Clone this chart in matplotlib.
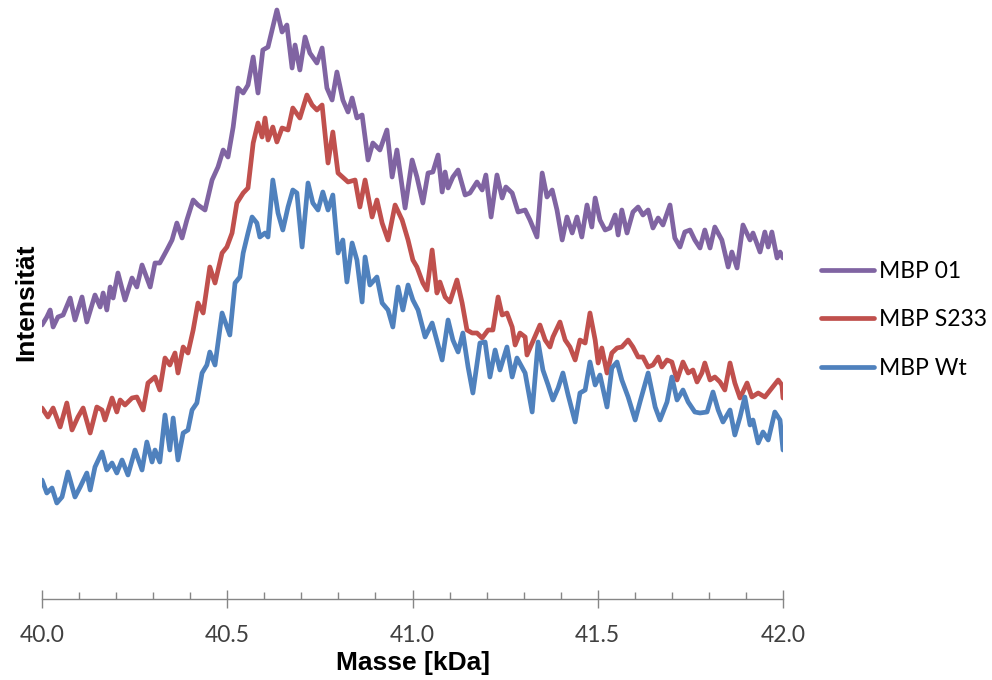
import matplotlib
matplotlib.use("Agg")
import matplotlib.pyplot as plt
from matplotlib.ticker import MultipleLocator

# MALDI spectra, mass in kDa, intensity in arbitrary units
mass_01 = [40.000, 40.013, 40.022, 40.030, 40.043, 40.057, 40.076, 40.089, 40.108, 40.121,
           40.143, 40.157, 40.165, 40.175, 40.184, 40.192, 40.205, 40.224, 40.243, 40.256,
           40.270, 40.292, 40.305, 40.318, 40.337, 40.351, 40.364, 40.378, 40.391, 40.408,
           40.421, 40.440, 40.459, 40.475, 40.489, 40.502, 40.516, 40.529, 40.543, 40.556,
           40.570, 40.583, 40.596, 40.610, 40.634, 40.648, 40.661, 40.675, 40.683, 40.696,
           40.710, 40.723, 40.742, 40.756, 40.769, 40.783, 40.796, 40.812, 40.826, 40.837,
           40.850, 40.864, 40.880, 40.893, 40.912, 40.931, 40.945, 40.958, 40.980, 40.999,
           41.012, 41.028, 41.042, 41.055, 41.069, 41.080, 41.088, 41.096, 41.109, 41.123,
           41.142, 41.155, 41.174, 41.188, 41.198, 41.212, 41.228, 41.242, 41.252, 41.269,
           41.285, 41.304, 41.317, 41.336, 41.350, 41.363, 41.377, 41.390, 41.404, 41.417,
           41.431, 41.444, 41.457, 41.471, 41.484, 41.493, 41.506, 41.520, 41.533, 41.547,
           41.555, 41.565, 41.579, 41.595, 41.609, 41.622, 41.636, 41.649, 41.663, 41.676,
           41.695, 41.708, 41.722, 41.735, 41.749, 41.762, 41.776, 41.789, 41.803, 41.816,
           41.835, 41.852, 41.862, 41.876, 41.892, 41.911, 41.919, 41.938, 41.951, 41.960,
           41.970, 41.984, 41.992, 42.000]
int_01 = [274, 282, 289, 272, 282, 284, 301, 279, 302, 277,
          304, 292, 306, 289, 312, 301, 326, 299, 321, 312,
          334, 312, 336, 336, 349, 359, 376, 361, 379, 399,
          394, 389, 419, 432, 449, 442, 472, 511, 506, 514,
          542, 506, 549, 552, 589, 567, 574, 531, 554, 529,
          562, 546, 536, 551, 511, 499, 527, 499, 487, 501,
          481, 484, 439, 456, 449, 469, 422, 449, 391, 439,
          422, 396, 426, 427, 444, 407, 427, 411, 422, 429,
          404, 406, 417, 409, 424, 382, 424, 401, 412, 406,
          387, 389, 379, 362, 426, 402, 409, 389, 359, 382,
          366, 382, 362, 394, 372, 401, 379, 369, 371, 384,
          364, 389, 366, 387, 392, 384, 389, 371, 381, 374,
          394, 361, 352, 367, 369, 359, 351, 369, 351, 372,
          359, 332, 347, 331, 374, 359, 366, 347, 367, 352,
          367, 341, 347, 341]

mass_s233 = [40.000, 40.016, 40.030, 40.049, 40.067, 40.081, 40.097, 40.111, 40.130, 40.148,
             40.162, 40.170, 40.189, 40.202, 40.211, 40.224, 40.243, 40.256, 40.273, 40.286,
             40.305, 40.318, 40.332, 40.345, 40.359, 40.367, 40.381, 40.394, 40.408, 40.421,
             40.435, 40.453, 40.467, 40.486, 40.499, 40.513, 40.526, 40.543, 40.556, 40.570,
             40.583, 40.594, 40.602, 40.610, 40.623, 40.634, 40.648, 40.664, 40.677, 40.696,
             40.715, 40.729, 40.742, 40.756, 40.772, 40.785, 40.799, 40.826, 40.845, 40.858,
             40.872, 40.891, 40.904, 40.918, 40.934, 40.953, 40.972, 40.988, 41.001, 41.012,
             41.028, 41.039, 41.053, 41.066, 41.074, 41.088, 41.101, 41.120, 41.134, 41.147,
             41.161, 41.174, 41.188, 41.204, 41.217, 41.231, 41.242, 41.255, 41.269, 41.277,
             41.290, 41.304, 41.309, 41.323, 41.344, 41.358, 41.371, 41.379, 41.398, 41.412,
             41.425, 41.439, 41.452, 41.466, 41.479, 41.493, 41.501, 41.511, 41.525, 41.538,
             41.552, 41.565, 41.582, 41.595, 41.609, 41.622, 41.636, 41.649, 41.663, 41.673,
             41.687, 41.700, 41.714, 41.730, 41.744, 41.757, 41.768, 41.781, 41.789, 41.803,
             41.816, 41.830, 41.843, 41.857, 41.870, 41.884, 41.903, 41.916, 41.933, 41.951,
             41.970, 41.987, 41.997, 42.000]
int_s233 = [191, 182, 191, 172, 196, 169, 182, 191, 166, 192,
            189, 179, 201, 187, 199, 194, 201, 202, 189, 216,
            222, 209, 241, 234, 246, 226, 252, 246, 269, 296,
            286, 332, 316, 346, 352, 366, 396, 406, 411, 456,
            476, 462, 481, 459, 472, 457, 471, 469, 491, 481,
            504, 494, 489, 494, 436, 467, 426, 417, 419, 392,
            419, 382, 399, 376, 359, 394, 379, 359, 339, 332,
            316, 309, 349, 306, 317, 302, 297, 319, 296, 269,
            266, 266, 261, 269, 269, 302, 284, 286, 272, 254,
            266, 262, 244, 256, 274, 259, 252, 262, 277, 259,
            252, 239, 259, 256, 286, 259, 236, 251, 226, 246,
            251, 252, 259, 252, 242, 242, 232, 234, 242, 232,
            239, 237, 219, 237, 226, 229, 217, 226, 236, 219,
            222, 217, 209, 236, 216, 201, 216, 202, 206, 202,
            211, 219, 214, 201]

mass_wt = [40.000, 40.013, 40.027, 40.040, 40.054, 40.070, 40.089, 40.103, 40.121, 40.130,
           40.143, 40.162, 40.175, 40.189, 40.202, 40.216, 40.232, 40.251, 40.270, 40.283,
           40.297, 40.305, 40.318, 40.332, 40.345, 40.354, 40.367, 40.381, 40.394, 40.405,
           40.418, 40.432, 40.445, 40.453, 40.467, 40.486, 40.507, 40.521, 40.534, 40.543,
           40.556, 40.567, 40.580, 40.588, 40.602, 40.610, 40.623, 40.637, 40.650, 40.664,
           40.677, 40.688, 40.702, 40.718, 40.731, 40.745, 40.758, 40.772, 40.785, 40.799,
           40.812, 40.823, 40.837, 40.850, 40.864, 40.872, 40.885, 40.904, 40.918, 40.934,
           40.947, 40.961, 40.974, 40.988, 41.001, 41.015, 41.034, 41.053, 41.080, 41.096,
           41.109, 41.123, 41.136, 41.150, 41.163, 41.182, 41.196, 41.209, 41.223, 41.236,
           41.255, 41.269, 41.282, 41.304, 41.323, 41.339, 41.352, 41.366, 41.379, 41.393,
           41.406, 41.420, 41.439, 41.452, 41.466, 41.479, 41.493, 41.506, 41.525, 41.538,
           41.552, 41.565, 41.582, 41.601, 41.614, 41.636, 41.655, 41.668, 41.687, 41.700,
           41.714, 41.730, 41.744, 41.762, 41.776, 41.795, 41.811, 41.825, 41.838, 41.857,
           41.870, 41.884, 41.897, 41.911, 41.919, 41.933, 41.946, 41.960, 41.978, 41.992,
           42.000]
int_wt = [119, 106, 111, 96, 102, 127, 102, 112, 126, 109,
          132, 147, 129, 136, 126, 139, 124, 149, 129, 157,
          137, 149, 137, 184, 149, 181, 139, 166, 169, 189,
          196, 226, 234, 247, 234, 286, 264, 316, 322, 346,
          366, 382, 376, 362, 366, 362, 419, 386, 369, 392,
          409, 406, 352, 416, 396, 389, 407, 389, 404, 346,
          359, 317, 356, 339, 297, 342, 314, 322, 296, 289,
          272, 312, 289, 314, 299, 289, 262, 276, 239, 279,
          259, 247, 266, 232, 206, 256, 257, 222, 249, 229,
          252, 222, 241, 226, 187, 257, 229, 214, 199, 211,
          226, 204, 177, 206, 209, 237, 214, 224, 192, 231,
          237, 219, 202, 179, 197, 226, 192, 179, 197, 222,
          199, 209, 197, 187, 186, 187, 207, 189, 177, 189,
          164, 182, 202, 174, 179, 156, 167, 159, 187, 179,
          149]

labels = ["MBP 01", "MBP S233", "MBP Wt"]
colors = ["#8064A2", "#C0504D", "#4F81BD"]

label_font = ["Liberation Sans", "DejaVu Sans"]
tick_font = ["Lato", "DejaVu Sans"]

fig = plt.figure(figsize=(9.92, 6.8), dpi=100)
ax = fig.add_axes([42 / 992, 81 / 680, 741 / 992, 594 / 680])

series = [(mass_01, int_01), (mass_s233, int_s233), (mass_wt, int_wt)]
for (m, y), lab, c in zip(series, labels, colors):
    ax.plot(m, y, color=c, lw=3.4, label=lab,
            solid_joinstyle="round", solid_capstyle="round")

ax.set_xlim(40.0, 42.0)
ax.set_ylim(0, 594)

for s in ["left", "right", "top"]:
    ax.spines[s].set_visible(False)
ax.spines["bottom"].set_color("#868686")
ax.spines["bottom"].set_linewidth(1.0)

ax.xaxis.set_major_locator(MultipleLocator(0.5))
ax.xaxis.set_minor_locator(MultipleLocator(0.1))
ax.xaxis.set_major_formatter(plt.FuncFormatter(lambda v, p: f"{v:.1f}"))
ax.tick_params(axis="x", which="major", direction="inout", length=13,
               width=1.0, color="#868686", labelsize=16.5, labelcolor="#404040", pad=12)
ax.tick_params(axis="x", which="minor", direction="in", length=5,
               width=1.0, color="#868686")
ax.set_yticks([])
for t in ax.get_xticklabels():
    t.set_family(tick_font)

ax.set_xlabel("Masse [kDa]", fontsize=19, fontweight="bold", family=label_font, labelpad=4)
ax.set_ylabel("Intensität", fontsize=19, fontweight="bold", family=label_font, labelpad=3)

fig.legend(loc="center left", bbox_to_anchor=(821 / 992, 360 / 680),
           frameon=False, handlelength=2.3, handletextpad=0.22,
           labelspacing=1.2, borderpad=0, borderaxespad=0,
           prop={"family": tick_font, "size": 16.5})

fig.savefig("out.png", dpi=100)
